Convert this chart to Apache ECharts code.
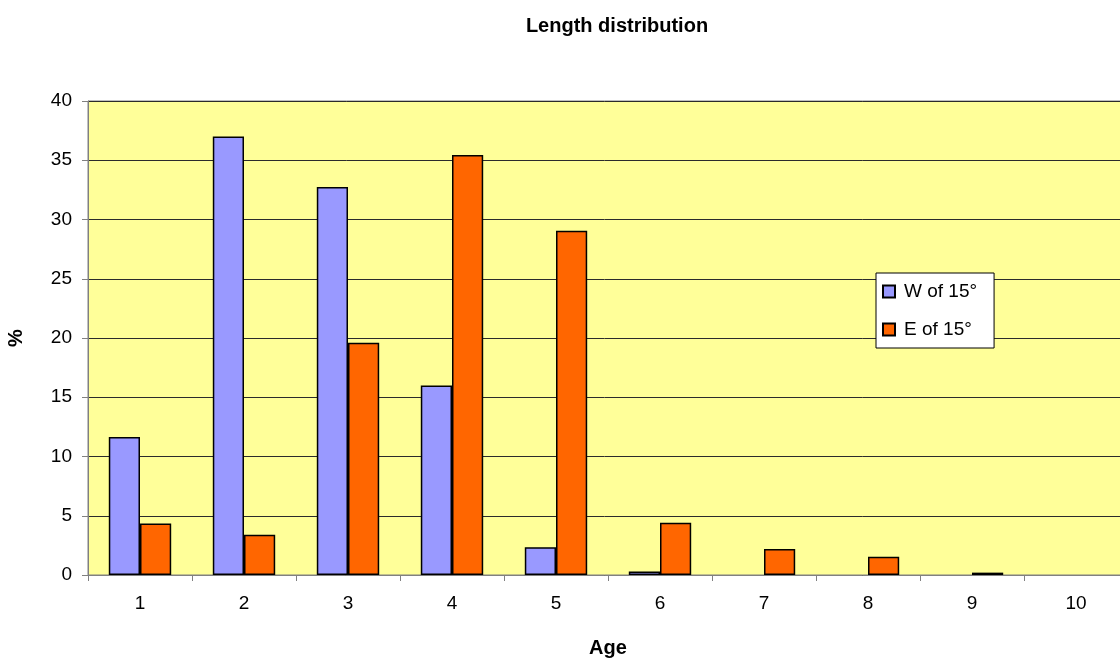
<!DOCTYPE html>
<html>
<head>
<meta charset="utf-8">
<script src="https://cdn.jsdelivr.net/npm/echarts@6/dist/echarts.min.js"></script>
<style>html,body{margin:0;padding:0;background:#fff}#c{width:1120px;height:662px}</style>
</head>
<body>
<div id="c"></div>
<script>
const categories = ['1','2','3','4','5','6','7','8','9','10'];
const westValues = [11.65, 37.0, 32.75, 16.0, 2.35, 0.3, 0, 0, 0, 0];
const eastValues = [4.35, 3.4, 19.6, 35.45, 29.05, 4.4, 2.2, 1.55, 0.2, 0];
const seriesNames = ['W of 15°', 'E of 15°'];
const yTicks = { min: 0, max: 40, interval: 5 };

const font = 'Liberation Sans, Arial, sans-serif';
const toData = arr => arr.map(v => v === 0 ? '-' : v);

const chart = echarts.init(document.getElementById('c'), null, { renderer: 'canvas' });
chart.setOption({
  animation: false,
  backgroundColor: '#ffffff',
  title: {
    text: 'Length distribution',
    left: 612, top: 11, textAlign: 'center',
    textStyle: { fontFamily: font, fontSize: 20, fontWeight: 'bold', color: '#000' }
  },
  legend: {
    orient: 'vertical',
    left: 876, top: 273,
    padding: [9, 17, 9, 6],
    itemGap: 19,
    itemWidth: 12, itemHeight: 12,
    backgroundColor: '#ffffff',
    borderColor: '#000', borderWidth: 1,
    icon: 'rect',
    textStyle: { fontFamily: font, fontSize: 19, color: '#000', padding: [0, 0, 0, 4] },
    data: seriesNames
  },
  grid: {
    left: 88, top: 101, width: 1040, bottom: 87,
    outerBoundsMode: 'none', containLabel: false,
    show: true, backgroundColor: '#FFFF99', borderColor: '#808080', borderWidth: 1
  },
  xAxis: {
    type: 'category',
    data: categories,
    name: 'Age', nameLocation: 'middle', nameGap: 63,
    nameTextStyle: { fontFamily: font, fontSize: 20, fontWeight: 'bold', color: '#000' },
    axisLine: { lineStyle: { color: '#808080', width: 1 } },
    axisTick: { show: true, alignWithLabel: false, length: 6, lineStyle: { color: '#808080' } },
    axisLabel: { fontFamily: font, fontSize: 19, color: '#000', margin: 19 },
    splitLine: { show: false }
  },
  yAxis: {
    type: 'value',
    min: yTicks.min, max: yTicks.max, interval: yTicks.interval,
    name: '%', nameLocation: 'middle', nameGap: 62, nameRotate: 90,
    nameTextStyle: { fontFamily: font, fontSize: 20, fontWeight: 'bold', color: '#000' },
    axisLine: { show: true, lineStyle: { color: '#808080', width: 1 } },
    axisTick: { show: true, length: 6, lineStyle: { color: '#808080' } },
    axisLabel: { fontFamily: font, fontSize: 19, color: '#000', margin: 16 },
    splitLine: { show: true, lineStyle: { color: '#2b2b2b', width: 1 } }
  },
  series: [
    {
      name: seriesNames[0], type: 'bar', data: toData(westValues),
      barGap: '0%', barCategoryGap: '40%',
      itemStyle: { color: '#9999FF', borderColor: '#000', borderWidth: 1.5 }
    },
    {
      name: seriesNames[1], type: 'bar', data: toData(eastValues),
      barGap: '0%', barCategoryGap: '40%',
      itemStyle: { color: '#FF6600', borderColor: '#000', borderWidth: 1.5 }
    }
  ]
});
</script>
</body>
</html>
